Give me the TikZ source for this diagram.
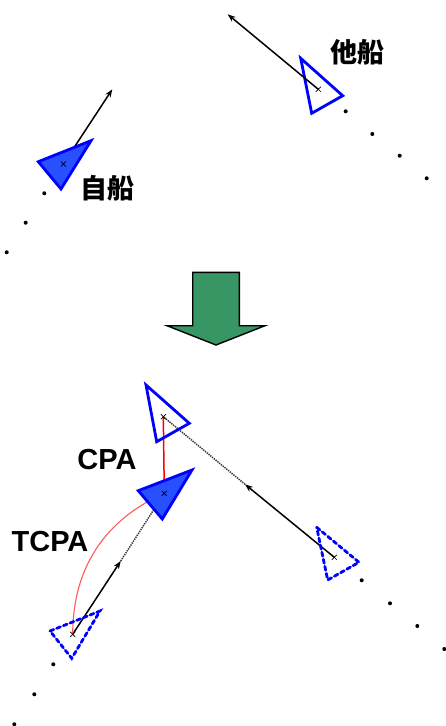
\documentclass[tikz,border=0pt]{standalone}
\usepackage{fontspec}
\setmainfont{Liberation Sans}
\newfontfamily\cjk{Noto Sans CJK JP}
\usetikzlibrary{arrows.meta}
\definecolor{shipblue}{RGB}{0,0,255}
\definecolor{shipfillc}{RGB}{40,80,255}
\definecolor{arrowgreen}{RGB}{56,150,100}
\definecolor{cpared}{RGB}{255,0,0}
\definecolor{arcred}{RGB}{255,90,90}
\tikzset{
  shipfill/.style={draw=shipblue, fill=shipfillc, line width=2.8pt, line join=miter},
  shipline/.style={draw=shipblue, line width=2.8pt, line join=miter},
  shipghost/.style={draw=shipblue, line width=2.8pt, dash pattern=on 4pt off 3.2pt, line cap=round},
  vec/.style={line width=1.5pt, -{Stealth[length=8pt,width=6pt]}},
  track/.style={line width=1.5pt, draw=black!80, dash pattern=on 1.3pt off 1pt},
  dotmark/.style={circle, fill=black, inner sep=0pt, minimum size=4pt},
  jlabel/.style={font=\cjk\bfseries\fontsize{27}{27}\selectfont, inner sep=0pt},
  abbr/.style={font=\bfseries\fontsize{29}{29}\selectfont, inner sep=0pt},
  xmark/.pic={\draw[line width=0.7pt] (-2.5,-2.5)--(2.5,2.5) (-2.5,2.5)--(2.5,-2.5);}
}
\begin{document}
\begin{tikzpicture}[x=1pt,y=-1pt]
\useasboundingbox (0,0) rectangle (445,726);

% ---------- top: initial situation ----------
\coordinate (ownT) at (63.3,164);
\coordinate (ownTv) at (112.3,89.3);
\coordinate (othT) at (318.3,89.3);
\coordinate (othTv) at (227.7,14.3);

\draw[vec] (ownT) -- (ownTv);
\draw[shipfill] (38.3,161.7) -- (91,140.7) -- (61,189) -- cycle;
\pic at (ownT) {xmark};

\draw[shipline] (300.7,58.3) -- (342.7,95.7) -- (311.7,113.3) -- cycle;
\draw[vec] (othT) -- (othTv);
\pic at (othT) {xmark};

\node[jlabel] (lblOth) at (357,52) {他船};
\node[jlabel] (lblOwn) at (107,188) {自船};

\foreach \i/\x/\y in {1/345.7/111.3, 2/372.3/134, 3/399.7/155.7, 4/426.7/178.3,
                      5/44.3/193.3, 6/25.7/222.7, 7/6.7/252.3}
  \node[dotmark] (td\i) at (\x,\y) {};

% ---------- green down arrow ----------
\draw[fill=arrowgreen, line width=1.4pt, line join=miter]
  (192.7,272.3) -- (239.3,272.3) -- (239.3,325.7) -- (265,325.7) -- (216,345)
  -- (167,325.7) -- (192.7,325.7) -- cycle;

% ---------- bottom: CPA / TCPA ----------
\coordinate (own0) at (72.7,634.3);
\coordinate (ownM) at (120.7,561);
\coordinate (own1) at (164.3,493.3);
\coordinate (oth0) at (334.3,557.3);
\coordinate (othM) at (245,484.3);
\coordinate (oth1) at (163.3,416.7);

% tracks
\draw[vec] (oth0) -- (othM);
\draw[track] (othM) -- (oth1);
\draw[vec] (own0) -- (ownM);
\draw[track] (ownM) -- (own1);

% CPA line and TCPA arc
\draw[cpared, line width=1.5pt] (oth1) -- (own1);
\draw[arcred, line width=1.1pt] (own0) to[out=90, in=204] (own1);

% ships
\draw[shipghost] (316.7,527.3) -- (359,562.3) -- (327.7,580) -- cycle;
\draw[shipghost] (50,631) -- (100,611) -- (71.7,658.3) -- cycle;
\draw[shipline] (146,385) -- (189.3,423.3) -- (156.7,441.7) -- cycle;
\draw[shipfill] (138.3,490.7) -- (192,470) -- (162.3,519) -- cycle;
\pic at (oth1) {xmark};
\pic at (own1) {xmark};
\pic at (oth0) {xmark};
\pic at (own0) {xmark};

\node[abbr] (lblCPA) at (107,460) {CPA};
\node[abbr] (lblTCPA) at (50,541.5) {TCPA};

\foreach \i/\x/\y in {1/361.7/580.3, 2/390/603.3, 3/417.3/626, 4/444.3/649,
                      5/53.3/664.3, 6/34.3/694.3, 7/14.3/724.3}
  \node[dotmark] (bd\i) at (\x,\y) {};
\end{tikzpicture}
\end{document}
